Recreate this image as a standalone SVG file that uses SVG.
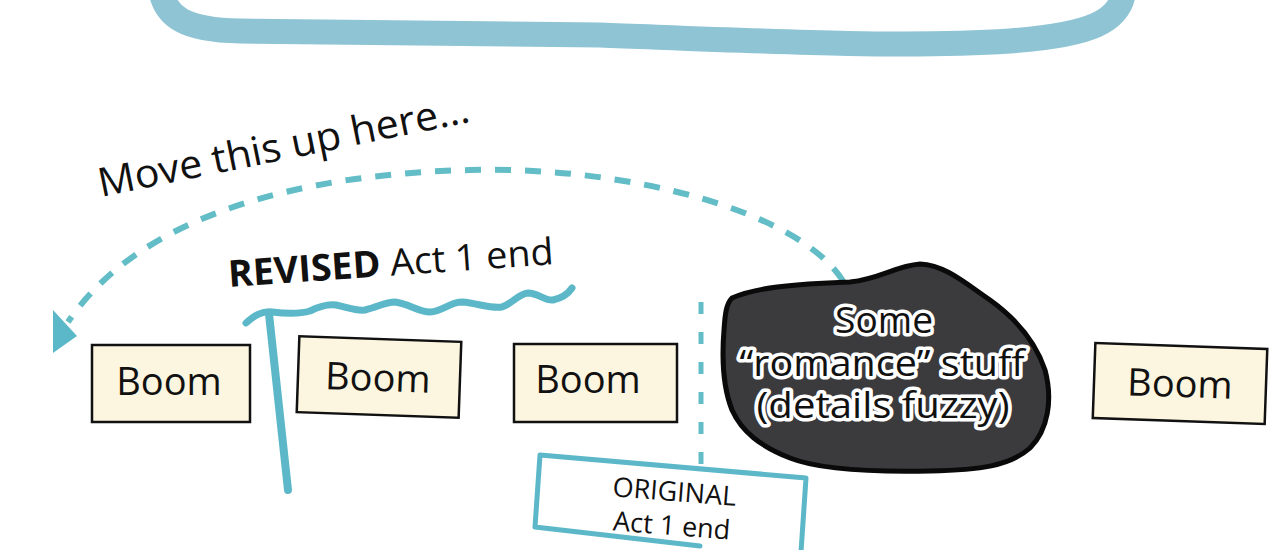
<svg xmlns="http://www.w3.org/2000/svg" width="1280" height="550" viewBox="0 0 1280 550">
<defs>
<style>
.box{fill:#fcf5df;stroke:#111;stroke-width:2.5}
.boom{font-family:"Open Sans","Noto Sans",sans-serif;font-size:38px;fill:#111;text-anchor:middle}
.lbl{font-family:"Open Sans","Noto Sans",sans-serif;fill:#111}
.teal{fill:none;stroke:#5cb8c8;stroke-linecap:round;stroke-linejoin:round}
.blobtxt{font-family:"Open Sans","Noto Sans",sans-serif;font-size:37px;fill:#111;stroke:#fff;stroke-width:7;stroke-linejoin:round;paint-order:stroke;text-anchor:middle}
</style>
</defs>
<rect width="1280" height="550" fill="#fff"/>
<g id="top-band">
<path d="M160,-14 C164,18 186,30 240,31 L600,35 C760,41 900,48 1010,41 C1090,35 1122,22 1124,-12" fill="none" stroke="#8fc4d5" stroke-width="25" stroke-linecap="round"/>
</g>
<g id="connectors">
<path d="M843,281 C800,212 630,166 470,170 C300,174 140,215 68,322" fill="none" stroke="#62bdc6" stroke-width="6" stroke-dasharray="16 14"/>
<polygon points="53,310 77,336 53,353" fill="#5bb8c8"/>
<line x1="701" y1="302" x2="701" y2="466" stroke="#62bdc6" stroke-width="5" stroke-dasharray="12 18"/>
</g>
<g id="move-label">
<text class="lbl" font-size="40" transform="translate(101,197) rotate(-11.5)" textLength="378" lengthAdjust="spacingAndGlyphs">Move this up here…</text>
</g>
<g id="revised-marker">
<path class="teal" stroke-width="7" d="M246,323 C255,315 262,311 272,312 C290,314 300,314 310,311 C320,306 328,304 336,305 C350,308 355,311 365,310 C378,307 385,302 395,302 C410,304 418,312 430,312 C443,311 450,302 462,302 C478,303 490,309 502,307 C512,304 518,294 528,293 C538,293 545,301 553,300 C562,298 568,294 572,288"/>
<path class="teal" stroke-width="8" d="M269,314 L288,490"/>
<text class="lbl" font-size="37" transform="translate(229,287) rotate(-4)" textLength="326" lengthAdjust="spacingAndGlyphs"><tspan font-weight="bold">REVISED</tspan> Act 1 end</text>
</g>
<g id="boom1">
<rect class="box" x="92" y="345" width="158" height="77"/>
<text class="boom" x="169" y="395">Boom</text>
</g>
<g id="boom2" transform="rotate(2 379 377)">
<rect class="box" x="298" y="339" width="162" height="76"/>
<text class="boom" x="378" y="391">Boom</text>
</g>
<g id="boom3">
<rect class="box" x="514" y="344" width="163" height="78"/>
<text class="boom" x="588" y="393">Boom</text>
</g>
<g id="romance-blob">
<path d="M732,298 C755,288 790,284 850,282 C880,279 895,266 920,264 C945,265 965,283 990,300 C1015,318 1035,340 1045,370 C1053,400 1048,430 1030,448 C1010,466 980,470 930,471 C880,472 820,470 790,458 C760,446 742,432 732,410 C722,385 722,355 724,330 C725,315 726,304 732,298 Z" fill="#3b3a3d" stroke="#0a0a0a" stroke-width="5" stroke-linejoin="round"/>
<text class="blobtxt" x="884" y="333" textLength="98" lengthAdjust="spacingAndGlyphs">Some</text>
<text class="blobtxt" x="882" y="376" textLength="285" lengthAdjust="spacingAndGlyphs">“romance” stuff</text>
<text class="blobtxt" x="883" y="418" textLength="253" lengthAdjust="spacingAndGlyphs">(details fuzzy)</text>
</g>
<g id="boom5" transform="rotate(2 1180 384)">
<rect class="box" x="1094" y="346" width="172" height="75"/>
<text class="boom" x="1180" y="397">Boom</text>
</g>
<g id="original-marker">
<path class="teal" stroke-width="5" d="M540,455 L806,478 L801,552 M540,455 L535,527 L700,546"/>
<g transform="translate(673,0) rotate(4.5 0 510)">
<text class="lbl" font-size="27" x="0" y="501" text-anchor="middle">ORIGINAL</text>
<text class="lbl" font-size="27" x="0" y="535" text-anchor="middle">Act 1 end</text>
</g>
</g>
</svg>
